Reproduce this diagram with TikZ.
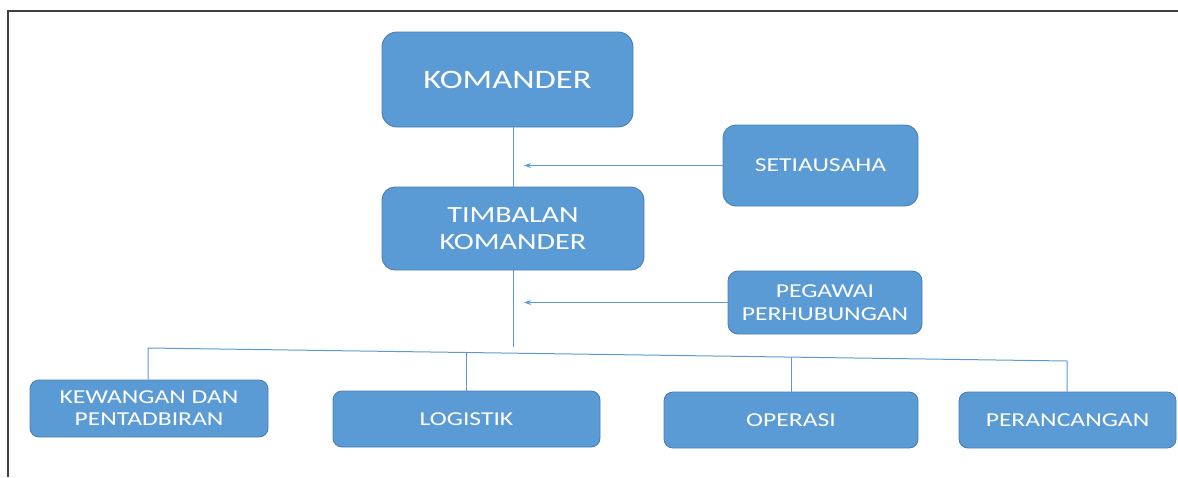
\documentclass[tikz,border=0pt]{standalone}
\usepackage{fontspec}
\usetikzlibrary{arrows.meta}
\newfontfamily\boxfont[FakeStretch=1.3]{Carlito}
\definecolor{boxblue}{HTML}{5B9BD5}
\definecolor{boxedge}{HTML}{4A7FB5}
\definecolor{linkblue}{HTML}{5B9BD5}
\definecolor{frame}{HTML}{404040}
\begin{document}
\begin{tikzpicture}[x=1pt,y=-1pt,
  orgbox/.style={draw=boxedge, line width=0.9pt, fill=boxblue, text=white,
    align=center, inner sep=0pt},
  link/.style={draw=linkblue, line width=1pt},
  feed/.style={link, -{Stealth[length=7pt,width=5pt]}},
  sz/.style 2 args={font=\boxfont\fontsize{#1}{#2}\selectfont}]
  \useasboundingbox (0,0) rectangle (1178,477);
  % page frame
  \draw[frame, line width=1.4pt] (1178,11) -- (8,11) -- (8,477);

  % boxes
  \node[orgbox, rounded corners=15pt, minimum width=251pt, minimum height=95pt, sz={26.6}{31}]
    (kom) at (507.5,79.5) {KOMANDER};
  \node[orgbox, rounded corners=13pt, minimum width=262pt, minimum height=83pt, sz={23.2}{27}]
    (tim) at (513,228.5) {TIMBALAN\\KOMANDER};
  \node[orgbox, rounded corners=13pt, minimum width=195pt, minimum height=81pt, sz={19.7}{23}]
    (set) at (820.5,165.5) {SETIAUSAHA};
  \node[orgbox, rounded corners=10pt, minimum width=194pt, minimum height=63pt, sz={19.7}{23}]
    (peg) at (825,302.5) {PEGAWAI\\PERHUBUNGAN};
  \node[orgbox, rounded corners=9pt, minimum width=238pt, minimum height=57pt, sz={19.7}{22}]
    (kew) at (149,408.5) {KEWANGAN DAN\\PENTADBIRAN};
  \node[orgbox, rounded corners=9pt, minimum width=267pt, minimum height=56pt, sz={19.7}{23}]
    (log) at (466.5,419) {LOGISTIK};
  \node[orgbox, rounded corners=9pt, minimum width=254pt, minimum height=56pt, sz={19.7}{23}]
    (ope) at (791,420) {OPERASI};
  \node[orgbox, rounded corners=9pt, minimum width=217pt, minimum height=56pt, sz={19.7}{23}]
    (per) at (1067.5,420) {PERANCANGAN};

  % junction points
  \coordinate (trunk) at (513,347);
  \coordinate (setTip) at (524,165.5);
  \coordinate (pegTip) at (524,302.5);
  \coordinate (busL) at (148,348);
  \coordinate (bLog) at (466.5,352.5);
  \coordinate (bOpe) at (791,357.1);
  \coordinate (busR) at (1067,361);

  % command line
  \draw[link] (tim.north |- kom.south) -- (tim.north);
  \draw[link] (tim.south) -- (trunk);
  \draw[feed] (set.west) -- (setTip);
  \draw[feed] (peg.west) -- (pegTip);

  % branch bus
  \draw[link] (kew.north -| busL) -- (busL) -- (busR) -- (busR |- per.north);
  \draw[link] (bLog) -- (log.north);
  \draw[link] (bOpe) -- (ope.north);
\end{tikzpicture}
\end{document}
